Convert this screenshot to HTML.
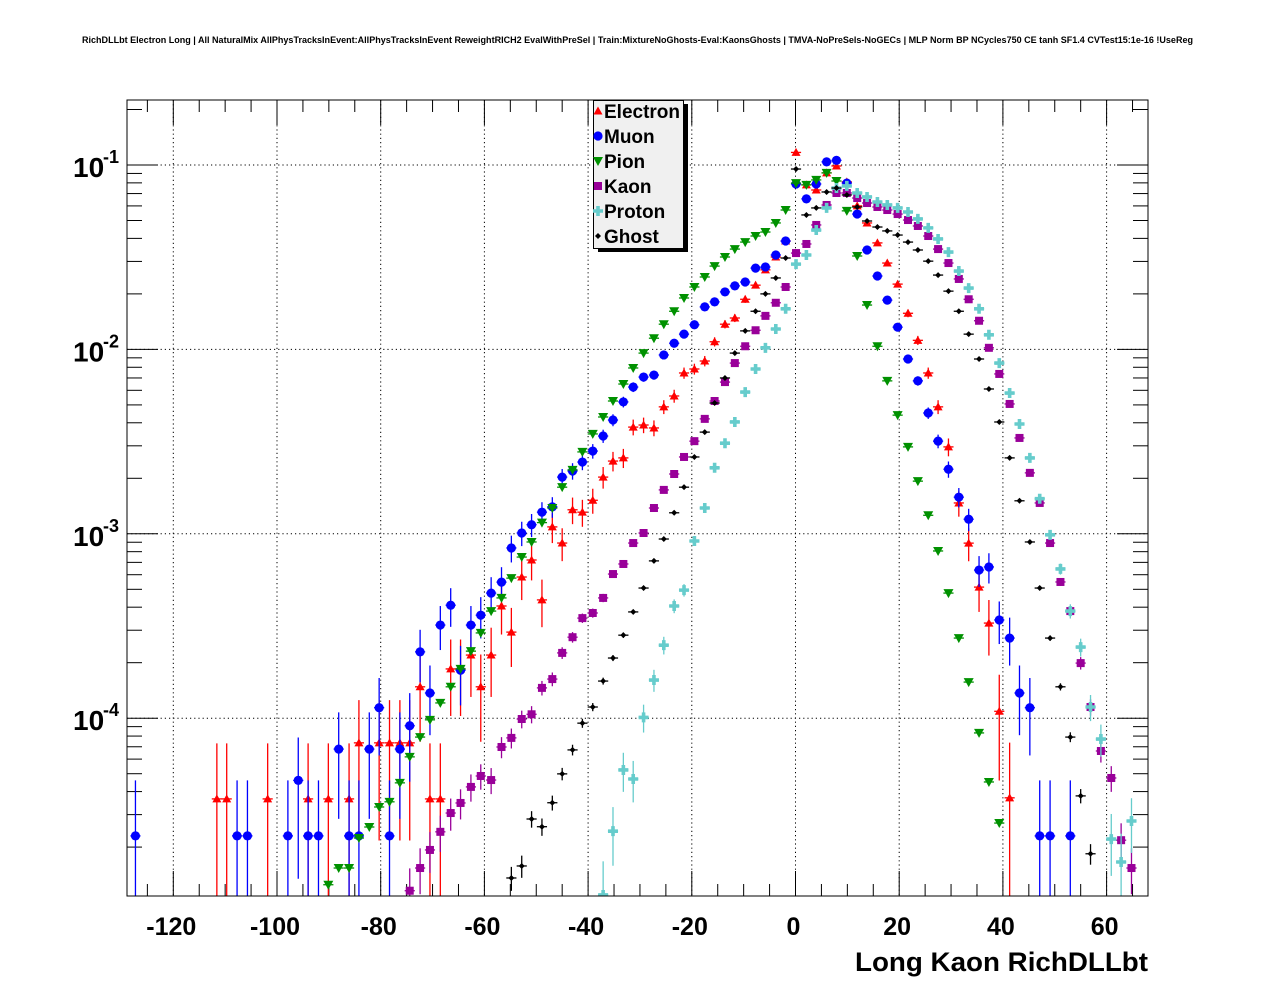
<!DOCTYPE html>
<html><head><meta charset="utf-8"><style>
html,body{margin:0;padding:0;background:#fff;width:1276px;height:996px;overflow:hidden;}
svg{display:block;font-family:"Liberation Sans",Arial,sans-serif;font-weight:bold;}
</style></head><body>
<svg id="chart" width="1276" height="996" viewBox="0 0 1276 996" xmlns="http://www.w3.org/2000/svg">
<rect x="0" y="0" width="1276" height="996" fill="#fff"/>
<text x="637.5" y="43" font-size="9" text-anchor="middle" textLength="1111" lengthAdjust="spacingAndGlyphs">RichDLLbt Electron Long | All NaturalMix AllPhysTracksInEvent:AllPhysTracksInEvent ReweightRICH2 EvalWithPreSel | Train:MixtureNoGhosts-Eval:KaonsGhosts | TMVA-NoPreSels-NoGECs | MLP Norm BP NCycles750 CE tanh SF1.4 CVTest15:1e-16 !UseReg</text>
<defs><clipPath id="plotclip"><rect x="127" y="100" width="1021" height="796"/></clipPath></defs>
<g id="grid"></g>
<g id="axes"></g>
<g id="series" clip-path="url(#plotclip)"></g>
<rect x="127" y="100" width="1021" height="796" fill="none" stroke="#000" stroke-width="1"/>
<g id="legend"></g>
<text x="1148" y="971" font-size="27" text-anchor="end" textLength="293" lengthAdjust="spacingAndGlyphs">Long Kaon RichDLLbt</text>
</svg>
<script>
const binCenters = [-127.3,-125.3,-123.4,-121.4,-119.5,-117.5,-115.5,-113.6,-111.6,-109.7,-107.7,-105.7,-103.8,-101.8,-99.9,-97.9,-95.9,-94.0,-92.0,-90.1,-88.1,-86.1,-84.2,-82.2,-80.3,-78.3,-76.3,-74.4,-72.4,-70.5,-68.5,-66.5,-64.6,-62.6,-60.7,-58.7,-56.7,-54.8,-52.8,-50.9,-48.9,-46.9,-45.0,-43.0,-41.1,-39.1,-37.1,-35.2,-33.2,-31.3,-29.3,-27.3,-25.4,-23.4,-21.5,-19.5,-17.5,-15.6,-13.6,-11.7,-9.7,-7.7,-5.8,-3.8,-1.9,0.1,2.1,4.0,6.0,7.9,9.9,11.9,13.8,15.8,17.7,19.7,21.7,23.6,25.6,27.5,29.5,31.5,33.4,35.4,37.3,39.3,41.3,43.2,45.2,47.1,49.1,51.1,53.0,55.0,56.9,58.9,60.9,62.8,64.8];
const seriesNames = ["Electron","Muon","Pion","Kaon","Proton","Ghost"];
const seriesFirstBin = [8,0,19,27,46,37];
const electronValues = [3.65e-5,3.65e-5,null,null,null,3.65e-5,null,null,null,3.65e-5,null,3.65e-5,null,3.65e-5,7.35e-5,null,7.35e-5,7.35e-5,7.35e-5,7.35e-5,1.48e-4,3.65e-5,3.65e-5,1.85e-4,1.85e-4,2.2e-4,1.48e-4,2.2e-4,4.06e-4,2.93e-4,5.83e-4,7.21e-4,4.38e-4,1.09e-3,8.91e-4,1.35e-3,1.31e-3,1.52e-3,2.03e-3,2.48e-3,2.58e-3,3.79e-3,3.89e-3,3.75e-3,4.88e-3,5.59e-3,7.45e-3,7.83e-3,8.65e-3,1.1e-2,1.37e-2,1.48e-2,1.87e-2,2.23e-2,2.7e-2,3.17e-2,3.87e-2,0.117,0.078,0.0732,0.0906,0.0988,0.081,0.06,0.0485,0.0378,0.0294,0.0226,0.0157,0.0112,0.00745,0.00488,0.00296,0.00147,8.9e-4,5.14e-4,3.28e-4,1.09e-4,3.7e-5];
const muonValues = [2.3e-5,null,null,null,null,null,null,null,null,null,2.3e-5,2.3e-5,null,null,null,2.3e-5,4.6e-5,2.3e-5,2.3e-5,null,6.8e-5,2.3e-5,2.3e-5,6.8e-5,1.14e-4,2.3e-5,6.8e-5,9.1e-5,2.29e-4,1.37e-4,3.2e-4,4.1e-4,1.82e-4,3.2e-4,3.62e-4,4.77e-4,5.47e-4,8.38e-4,1.01e-3,1.12e-3,1.31e-3,1.4e-3,2.03e-3,2.19e-3,2.45e-3,2.81e-3,3.39e-3,4.14e-3,5.19e-3,6.25e-3,7.08e-3,7.26e-3,9.33e-3,1.08e-2,1.21e-2,1.36e-2,1.7e-2,1.81e-2,2.05e-2,2.21e-2,2.32e-2,2.76e-2,2.8e-2,3.25e-2,3.87e-2,0.0789,0.0655,0.0789,0.104,0.106,0.0798,0.0542,0.0346,0.025,0.0185,0.0132,0.00887,0.00675,0.00452,0.00318,0.00224,0.00158,0.0012,6.36e-4,6.61e-4,3.41e-4,2.72e-4,1.37e-4,1.14e-4,2.3e-5,2.3e-5,null,2.3e-5];
const pionValues = [1.25e-5,1.54e-5,1.54e-5,2.24e-5,2.57e-5,3.3e-5,3.52e-5,4.46e-5,6.17e-5,7.9e-5,9.8e-5,1.21e-4,1.48e-4,1.85e-4,2.31e-4,2.9e-4,3.81e-4,4.49e-4,5.75e-4,7.48e-4,9.03e-4,1.15e-3,1.38e-3,1.79e-3,2.22e-3,2.78e-3,3.48e-3,4.3e-3,5.25e-3,6.49e-3,7.93e-3,9.55e-3,1.15e-2,1.37e-2,1.61e-2,1.9e-2,2.18e-2,2.47e-2,2.83e-2,3.17e-2,3.5e-2,3.82e-2,4.12e-2,4.33e-2,4.85e-2,5.7e-2,0.0798,0.078,0.083,0.0906,0.0819,0.0564,0.0321,0.0174,0.0104,0.00675,0.0044,0.00296,0.00193,0.00126,8.07e-4,4.77e-4,2.72e-4,1.57e-4,8.32e-5,4.51e-5,2.7e-5];
const kaonValues = [1.16e-5,1.54e-5,1.93e-5,2.42e-5,3.06e-5,3.47e-5,4.24e-5,4.86e-5,4.62e-5,6.98e-5,7.82e-5,9.9e-5,1.05e-4,1.46e-4,1.63e-4,2.26e-4,2.75e-4,3.49e-4,3.72e-4,4.49e-4,6.05e-4,6.86e-4,8.91e-4,1.01e-3,1.38e-3,1.73e-3,2.11e-3,2.61e-3,3.18e-3,4.2e-3,5.25e-3,6.65e-3,8.43e-3,1.04e-2,1.27e-2,1.52e-2,1.79e-2,2.18e-2,3.33e-2,3.73e-2,4.73e-2,6.07e-2,7.05e-2,7.05e-2,6.62e-2,6.22e-2,5.92e-2,5.7e-2,5.42e-2,5.03e-2,4.67e-2,4.12e-2,3.5e-2,2.94e-2,2.41e-2,1.87e-2,1.43e-2,1.02e-2,7.36e-3,5.06e-3,3.31e-3,2.14e-3,1.47e-3,8.91e-4,5.48e-4,3.81e-4,1.99e-4,1.15e-4,6.64e-5,4.74e-5,2.18e-5,1.54e-5];
const protonValues = [1.1e-5,2.44e-5,5.24e-5,4.68e-5,1.01e-4,1.61e-4,2.49e-4,4.06e-4,4.95e-4,9.14e-4,1.38e-3,2.28e-3,3.1e-3,4.04e-3,5.87e-3,7.83e-3,1.02e-2,1.29e-2,1.66e-2,2.9e-2,3.25e-2,4.44e-2,5.85e-2,7.5e-2,7.7e-2,7.05e-2,6.71e-2,6.3e-2,6.07e-2,5.85e-2,5.56e-2,5.1e-2,4.56e-2,3.97e-2,3.37e-2,2.66e-2,2.15e-2,1.66e-2,1.2e-2,8.43e-3,5.8e-3,3.94e-3,2.58e-3,1.55e-3,9.87e-4,6.45e-4,3.81e-4,2.43e-4,1.15e-4,7.71e-5,2.21e-5,1.66e-5,2.77e-5];
const ghostValues = [1.36e-5,1.58e-5,2.84e-5,2.58e-5,3.48e-5,4.99e-5,6.73e-5,9.4e-5,1.15e-4,1.59e-4,2.12e-4,2.82e-4,3.77e-4,5.08e-4,7.13e-4,9.37e-4,1.3e-3,1.79e-3,2.61e-3,3.56e-3,5.12e-3,7.0e-3,9.55e-3,1.26e-2,1.61e-2,2.0e-2,2.44e-2,3.13e-2,0.0951,0.0536,0.0585,0.0714,0.075,0.0688,0.0592,0.0497,0.0461,0.0439,0.0417,0.0382,0.0346,0.0301,0.0253,0.0207,0.0161,0.0121,0.00887,0.0061,0.00404,0.00258,0.00151,9.03e-4,5.08e-4,2.72e-4,1.48e-4,7.9e-5,3.79e-5,1.84e-5];
const xTickValues = [-120,-100,-80,-60,-40,-20,0,20,40,60];
const xTickLabels = ["-120","-100","-80","-60","-40","-20","0","20","40","60"];
const yDecades = [-1,-2,-3,-4];
const yDecadeLabels = ["-1","-2","-3","-4"];

const NS = "http://www.w3.org/2000/svg";
const X0 = 127, X1 = 1148, Y0 = 100, Y1 = 896;
function xs(v){ return 795.5 + v*5.185; }
function ys(v){ return 165 - (Math.log10(v)+1)*184.4; }
function clampY(y){ return Math.max(Y0-5, Math.min(Y1+5, y)); }
const xMin = (X0-795.5)/5.185, xMax = (X1-795.5)/5.185;
const lMax = -1 + (165-Y0)/184.4, lMin = -1 - (Y1-165)/184.4;
function mk(tag, attrs, parent){ const e=document.createElementNS(NS,tag); for(const k in attrs) e.setAttribute(k, attrs[k]); parent.appendChild(e); return e; }

const grid = document.getElementById('grid');
const axes = document.getElementById('axes');
xTickValues.forEach(function(v){
  const l = mk('line',{x1:xs(v),x2:xs(v),y1:Y0,y2:Y1,stroke:'#000','stroke-width':1,'stroke-dasharray':'1.2 3'},grid);
  
  
});
yDecades.forEach(function(d){
  const y = ys(Math.pow(10,d));
  const l = mk('line',{x1:X0,x2:X1,y1:y,y2:y,stroke:'#000','stroke-width':1,'stroke-dasharray':'1.2 3'},grid);
  
  
});
for(let v=-125; v<=xMax; v+=5){
  if(v<xMin) continue;
  const major = (v%20===0);
  const len = major?25:12;
  const x = xs(v);
  const t1 = mk('line',{x1:x,x2:x,y1:Y1,y2:Y1-len,stroke:'#000','stroke-width':1},axes);
  
  
  const t2 = mk('line',{x1:x,x2:x,y1:Y0,y2:Y0+len,stroke:'#000','stroke-width':1},axes);
  
  
}
xTickValues.forEach(function(v,i){
  const t = mk('text',{x:xs(v)-2,y:935,'font-size':25,'text-anchor':'middle'},axes);
  t.textContent = xTickLabels[i];
  
  
});
for(let d=-6; d<=0; d++){
  for(let m=1; m<=9; m++){
    const L = d + Math.log10(m);
    if(L<lMin || L>lMax) continue;
    const y = 165 - (L+1)*184.4;
    const len = (m===1)?31:15;
    const a = mk('line',{x1:X0,x2:X0+len,y1:y,y2:y,stroke:'#000','stroke-width':1},axes);
    
    
    const b = mk('line',{x1:X1,x2:X1-len,y1:y,y2:y,stroke:'#000','stroke-width':1},axes);
    
    
  }
}
yDecades.forEach(function(d,i){
  const y = ys(Math.pow(10,d));
  const t = mk('text',{x:73,y:y+12,'font-size':28},axes);
  t.textContent = '10';
  
  
  const s = mk('text',{x:103,y:y-2,'font-size':18},axes);
  s.textContent = yDecadeLabels[i];
  
  
});

const seriesColors = ['#ff0000','#0000ff','#009100','#990099','#66cccc','#000000'];
const seriesUnitWeight = [3.65e-5,2.3e-5,3e-8,1.2e-6,3e-6,3e-7];
function drawMarker(kind, x, y, color, g){
  let e;
  if(kind===0){ e = mk('polygon',{points:(x-4.5)+','+(y+3.5)+' '+(x+4.5)+','+(y+3.5)+' '+x+','+(y-4.5),fill:color},g); }
  else if(kind===1){ e = mk('circle',{cx:x,cy:y,r:4.6,fill:color},g); }
  else if(kind===2){ e = mk('polygon',{points:(x-5)+','+(y-4)+' '+(x+5)+','+(y-4)+' '+x+','+(y+5),fill:color},g); }
  else if(kind===3){ e = mk('rect',{x:x-4,y:y-4,width:8,height:8,fill:color},g); }
  else if(kind===4){ e = mk('path',{d:'M'+(x-5)+' '+(y-1.8)+'h3.2v-3.2h3.6v3.2h3.2v3.6h-3.2v3.2h-3.6v-3.2h-3.2z',fill:color},g); }
  else { e = mk('polygon',{points:x+','+(y-3)+' '+(x+3)+','+y+' '+x+','+(y+3)+' '+(x-3)+','+y,fill:color},g); }
  return e;
}
const seriesG = document.getElementById('series');
const allValues = [electronValues,muonValues,pionValues,kaonValues,protonValues,ghostValues];
allValues.forEach(function(vals, s){
  const g = mk('g',{},seriesG);
  
  
  const col = seriesColors[s];
  vals.forEach(function(v, i){
    if(v===null || v<=0) return;
    const bx = binCenters[seriesFirstBin[s]+i];
    const x = xs(bx), y = ys(v);
    if(y > Y1+8) return;
    const err = Math.sqrt(v*seriesUnitWeight[s]);
    const yHi = clampY(ys(v+err));
    const yLo = (v-err)>0 ? clampY(ys(v-err)) : Y1+5;
    const eb = mk('line',{x1:x,x2:x,y1:yHi,y2:yLo,stroke:col,'stroke-width':1.3},g);
    
    
    const hb = mk('line',{x1:xs(bx-0.98),x2:xs(bx+0.98),y1:y,y2:y,stroke:col,'stroke-width':1.3},g);
    
    
    const m = drawMarker(s, x, y, col, g);
    
    
  });
});

const lg = document.getElementById('legend');
const sh = mk('rect',{x:598,y:104,width:90,height:148,fill:'#000'},lg);


const box = mk('rect',{x:593.5,y:100.5,width:90,height:148,fill:'#f0f0f0',stroke:'#000','stroke-width':1},lg);


seriesNames.forEach(function(n, s){
  const y = 111 + s*25;
  const m = drawMarker(s, 598, y, seriesColors[s], lg);
  
  
  const t = mk('text',{x:604,y:y+7,'font-size':19},lg);
  t.textContent = n;
  
  
});
</script>
</body></html>
